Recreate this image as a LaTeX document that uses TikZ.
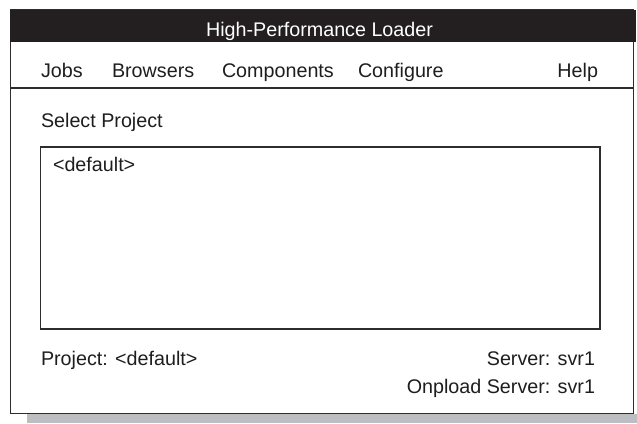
\documentclass[tikz,border=0pt]{standalone}
\usepackage{fontspec}
\setmainfont{Liberation Sans}
\definecolor{barblack}{RGB}{35,31,32}
\definecolor{edge}{RGB}{45,45,45}
\definecolor{shadowgray}{RGB}{189,190,194}
\definecolor{ink}{RGB}{30,30,30}
\begin{document}
\begin{tikzpicture}[x=1bp,y=-1bp,
  frame/.style={draw=edge,line width=1.2bp},
  lbl/.style={inner sep=0pt,outer sep=0pt,text=ink,font=\fontsize{19.8}{22}\selectfont},
  titlelbl/.style={lbl,text=white}]
  \useasboundingbox (0,0) rectangle (637,423);
  % drop shadow under the window
  \fill[shadowgray] (27,413.5) rectangle (637,423);
  % window body
  \filldraw[frame,fill=white] (10.5,10) rectangle (633.5,413.5);
  % title bar
  \fill[barblack] (10,10) rectangle (636,42);
  \node[titlelbl,anchor=base] (title) at (319.5,36) {High-Performance Loader};
  % menu bar and its lower rule
  \draw[edge,line width=1.2bp] (10.5,88) -- (633.5,88);
  \node[lbl,anchor=base west] (jobs) at (41,77) {Jobs};
  \node[lbl,anchor=base west] (browsers) at (112,77) {Browsers};
  \node[lbl,anchor=base west] (components) at (222,77) {Components};
  \node[lbl,anchor=base west] (configure) at (358,77) {Configure};
  \node[lbl,anchor=base east] (help) at (598,77) {Help};
  % project selection
  \node[lbl,anchor=base west] (select) at (41,127) {Select Project};
  \draw[frame] (40.5,147) rectangle (600,329);
  \node[lbl,anchor=base west] (default) at (53,171) {<default>};
  % status lines
  \node[lbl,anchor=base west] (project) at (41,365) {Project: <default>};
  \node[lbl,anchor=base east] (server) at (595,365) {Server: svr1};
  \node[lbl,anchor=base east] (onload) at (595,393) {Onpload Server: svr1};
\end{tikzpicture}
\end{document}
